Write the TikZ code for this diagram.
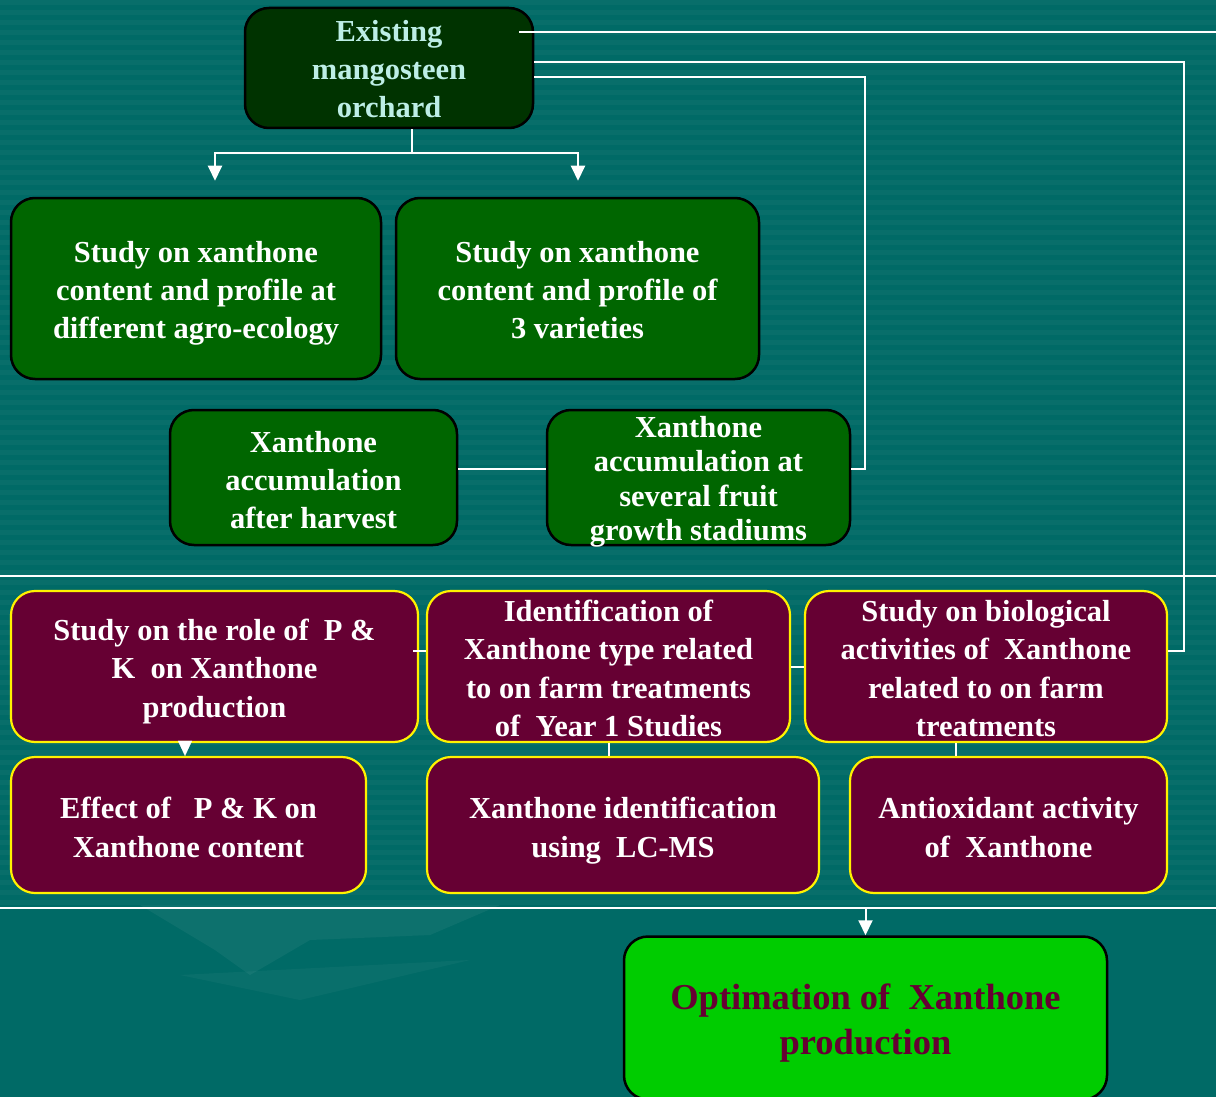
\documentclass[tikz,border=0pt]{standalone}
\usepackage{fontspec}
\setmainfont{Liberation Serif}
\usetikzlibrary{arrows.meta}
\definecolor{bgteal}{HTML}{006A66}
\definecolor{dkgreen}{HTML}{003300}
\definecolor{boxgreen}{HTML}{006600}
\definecolor{boxmaroon}{HTML}{660033}
\definecolor{limegreen}{HTML}{00CC00}
\definecolor{palecyan}{HTML}{BDEEE6}
\newcommand{\firstpad}[1]{\rule{0pt}{#1pt}}
\newcommand{\lastpad}{\rule[-7pt]{0pt}{7pt}}
\tikzset{
  gbox/.style={draw=black, line width=2.5pt, rounded corners=24pt, align=center,
    text=white, inner sep=0pt, font=\fontsize{30.5}{38}\selectfont\bfseries},
  mbox/.style={draw=yellow, line width=2.2pt, rounded corners=24pt, align=center,
    fill=boxmaroon, text=white, inner sep=0pt, font=\fontsize{30.5}{38.5}\selectfont\bfseries},
  wline/.style={draw=white, line width=2pt},
  warr/.style={wline, -{Triangle[width=14pt,length=15pt]}}
}
\begin{document}
\begin{tikzpicture}[x=1pt,y=-1pt]
\useasboundingbox (0,0) rectangle (1216,1097);
\fill[bgteal] (0,0) rectangle (1216,1097);
\foreach \yy in {0,10,...,900} \fill[white,opacity=0.03] (0,\yy) rectangle (1216,\yy+5);
% faint background shapes
\fill[white,opacity=0.05] (140,905) -- (500,905) -- (430,935) -- (310,940) -- (250,975) -- (215,950) -- cycle;
\fill[white,opacity=0.035] (180,975) -- (470,960) -- (300,1000) -- cycle;

% top section
\node[gbox, fill=dkgreen, text=palecyan, minimum width=288pt, minimum height=120pt] (orch) at (389,68) {\firstpad{31}Existing\\mangosteen\\orchard\lastpad};
\node[gbox, fill=boxgreen, minimum width=370pt, minimum height=181pt] (A) at (196,288.5) {\firstpad{30}Study on xanthone\\content and profile at\\different agro-ecology\lastpad};
\node[gbox, fill=boxgreen, minimum width=363pt, minimum height=181pt] (B) at (577.5,288.5) {\firstpad{30}Study on xanthone\\content and profile of\\3 varieties\lastpad};
\node[gbox, fill=boxgreen, minimum width=287pt, minimum height=135pt] (C) at (313.5,477.5) {\firstpad{32}Xanthone\\accumulation\\after harvest\lastpad};
\node[gbox, fill=boxgreen, minimum width=303pt, minimum height=135pt, font=\fontsize{30.5}{34.5}\selectfont\bfseries] (D) at (698.5,477.5) {\firstpad{23}Xanthone\\accumulation at\\several fruit\\\smash{growth stadiums}};

% maroon rows
\node[mbox, minimum width=407pt, minimum height=151pt] (M1) at (214.5,666.5) {\firstpad{31}Study on the role of\ \ P \&\\K\ \ on Xanthone\\production\lastpad};
\node[mbox, minimum width=363pt, minimum height=151pt] (M2) at (608.5,666.5) {\firstpad{24.5}Identification of\\Xanthone type related\\to on farm treatments\\\smash{of\ \ Year 1 Studies}};
\node[mbox, minimum width=362pt, minimum height=151pt] (M3) at (986,666.5) {\firstpad{24.5}Study on biological\\activities of\ \ Xanthone\\related to on farm\\\smash{treatments}};
\node[mbox, minimum width=355pt, minimum height=136pt] (N1) at (188.5,825) {\firstpad{33}Effect of\ \ \ P \& K on\\Xanthone content\lastpad};
\node[mbox, minimum width=392pt, minimum height=136pt] (N2) at (623,825) {\firstpad{33}Xanthone identification\\using\ \ LC-MS\lastpad};
\node[mbox, minimum width=317pt, minimum height=136pt] (N3) at (1008.5,825) {\firstpad{33}Antioxidant activity\\of\ \ Xanthone\lastpad};

% final
\node[draw=black, line width=2.5pt, rounded corners=24pt, fill=limegreen, text=boxmaroon, align=center,
  minimum width=483pt, minimum height=163pt, inner sep=0pt,
  font=\fontsize{36.5}{45}\selectfont\bfseries] (F) at (865.5,1018) {\firstpad{35}Optimation of\ \ Xanthone\\production\lastpad};

% separators
\coordinate (s1L) at (0,576); \coordinate (s1R) at (1216,576);
\coordinate (s2L) at (0,908); \coordinate (s2R) at (1216,908);
\coordinate (s2M) at (865.5,908);
\draw[wline] (s1L) -- (s1R);
\draw[wline] (s2L) -- (s2R);

% connectors from orchard
\coordinate (edgeR) at (1216,32);
\draw[wline] ([xshift=-15pt,yshift=36pt]orch.east) -- (edgeR);
\draw[wline] ([yshift=6pt]orch.east) -| ([xshift=16pt,yshift=15.5pt]M3.east) -- ([yshift=15.5pt]M3.east);
\draw[wline] ([yshift=-9pt]orch.east) -| ([xshift=14pt,yshift=8.5pt]D.east) -- ([yshift=8.5pt]D.east);
\coordinate (split) at ([xshift=23pt,yshift=-24pt]orch.south);
\draw[wline] ([xshift=23pt]orch.south) -- (split);
\draw[warr] (split) -| ([xshift=19pt,yshift=16pt]A.north);
\draw[warr] (split) -| ([xshift=0.5pt,yshift=16pt]B.north);
\draw[wline] ([yshift=8.5pt]C.east) -- ([yshift=8.5pt]D.west);

% maroon connectors
\draw[wline] ([xshift=-6pt,yshift=15.5pt]M1.east) -- ([yshift=15.5pt]M2.west);
\draw[wline] (M2.east) -- (M3.west);
\draw[wline] (M2.south) -- (M2.south |- N2.north);
\draw[wline] ([xshift=-30pt]M3.south) -- ([xshift=-30pt]M3.south |- N3.north);
\draw[white, -{Triangle[width=14pt,length=15pt]}, line width=0.1pt] ([xshift=-29.5pt,yshift=-1pt]M1.south) -- ([xshift=-29.5pt]M1.south |- N1.north);
\draw[warr] (s2M) -- (F.north);
\end{tikzpicture}
\end{document}
